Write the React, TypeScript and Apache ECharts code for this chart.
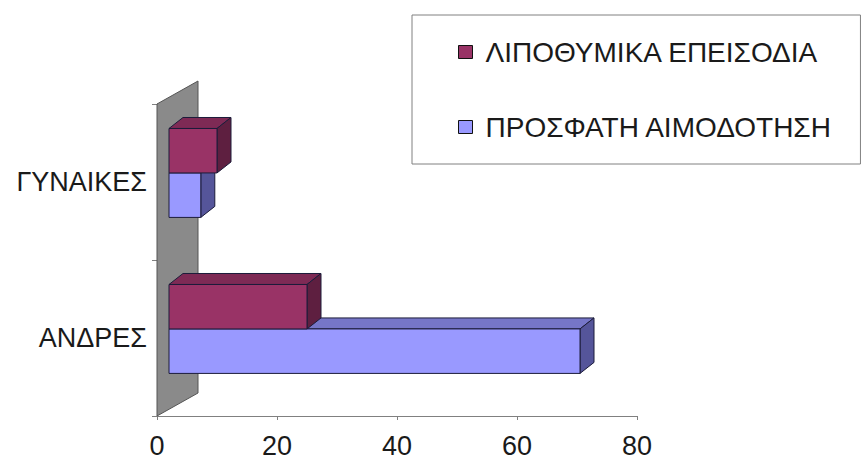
import React, { useEffect, useRef } from "react";
import * as echarts from "echarts";

const categories = ["ΑΝΔΡΕΣ", "ΓΥΝΑΙΚΕΣ"];
const seriesNames = ["ΛΙΠΟΘΥΜΙΚΑ ΕΠΕΙΣΟΔΙΑ", "ΠΡΟΣΦΑΤΗ ΑΙΜΟΔΟΤΗΣΗ"];
const faintingValues = [23, 8];
const donationValues = [68.5, 5.3];
const xMin = 0;
const xMax = 80;
const xInterval = 20;

const FONT = "'Liberation Sans', Arial, sans-serif";

const palette = [
  { front: "#993366", top: "#7e2a55", side: "#5e1f40" },
  { front: "#9999ff", top: "#7676c8", side: "#55559a" },
];
const EDGE = "#1c1c3a";

// 3D projection offsets (pixels)
const FX = 12;
const DX = 14;
const DY = -11;

function makeBarRenderer(slot: number) {
  return (params: any, api: any) => {
    const val = api.value(0);
    const cat = api.value(1);
    const p1 = api.coord([val, cat]);
    const p0 = api.coord([0, cat]);
    const band = api.size([0, 1])[1];
    const h = band * 0.285;
    const shift = band * 0.058;
    const cy = p1[1];
    const yTop = slot === 0 ? cy - shift - h : cy - shift;
    const xa = p0[0] + FX;
    const xb = p1[0] + FX;
    const c = palette[slot];
    return {
      type: "group",
      children: [
        {
          type: "polygon",
          shape: {
            points: [
              [xa, yTop],
              [xb, yTop],
              [xb + DX, yTop + DY],
              [xa + DX, yTop + DY],
            ],
          },
          style: { fill: c.top, stroke: EDGE, lineWidth: 1 },
        },
        {
          type: "polygon",
          shape: {
            points: [
              [xb, yTop],
              [xb + DX, yTop + DY],
              [xb + DX, yTop + h + DY],
              [xb, yTop + h],
            ],
          },
          style: { fill: c.side, stroke: EDGE, lineWidth: 1 },
        },
        {
          type: "rect",
          shape: { x: xa, y: yTop, width: xb - xa, height: h },
          style: { fill: c.front, stroke: EDGE, lineWidth: 1 },
        },
      ],
    };
  };
}

function renderWall(params: any) {
  const cs = params.coordSys;
  const x = cs.x;
  const y = cs.y;
  const h = cs.height;
  const wx = 41;
  const wy = -23;
  return {
    type: "polygon",
    shape: {
      points: [
        [x, y + h],
        [x, y],
        [x + wx, y + wy],
        [x + wx, y + h + wy],
      ],
    },
    style: { fill: "#8a8a8a", stroke: "#555555", lineWidth: 1 },
  };
}

export default function App() {
  const ref = useRef<HTMLDivElement>(null);
  useEffect(() => {
    if (!ref.current) return;
    const chart = echarts.init(ref.current, undefined, { renderer: "svg" });
    chart.setOption({
      animation: false,
      backgroundColor: "#ffffff",
      grid: { left: 157, right: 227, top: 104, bottom: 39, containLabel: false },
      legend: {
        data: seriesNames,
        orient: "vertical",
        left: 412,
        top: 15,
        padding: [22, 28, 22, 46],
        itemGap: 45,
        itemWidth: 14,
        itemHeight: 13,
        icon: "rect",
        borderColor: "#808080",
        borderWidth: 1,
        backgroundColor: "#ffffff",
        selectedMode: false,
        itemStyle: { borderColor: "#111111", borderWidth: 1 },
        textStyle: {
          fontSize: 28,
          fontFamily: FONT,
          color: "#1a1a1a",
          lineHeight: 30,
          padding: [0, 0, 0, 8],
        },
      },
      xAxis: {
        type: "value",
        min: xMin,
        max: xMax,
        interval: xInterval,
        axisLine: { show: true, lineStyle: { color: "#808080", width: 1 } },
        axisTick: { show: true, length: 4, lineStyle: { color: "#808080" } },
        splitLine: { show: false },
        axisLabel: { fontSize: 27, fontFamily: FONT, color: "#1a1a1a", margin: 16 },
      },
      yAxis: {
        type: "category",
        data: categories,
        axisLine: { show: true, lineStyle: { color: "#808080", width: 1 } },
        axisTick: { show: true, length: 5, lineStyle: { color: "#808080" } },
        splitLine: { show: false },
        axisLabel: {
          fontSize: 27,
          fontFamily: FONT,
          color: "#1a1a1a",
          margin: 10,
          padding: [0, 0, 6, 0],
        },
      },
      series: [
        {
          name: "wall",
          type: "custom",
          renderItem: renderWall,
          data: [[0, 0]],
          encode: { x: 0, y: 1 },
          z: 1,
          silent: true,
        },
        {
          name: seriesNames[0],
          type: "custom",
          renderItem: makeBarRenderer(0),
          data: faintingValues.map((v, i) => [v, i]),
          encode: { x: 0, y: 1 },
          itemStyle: { color: palette[0].front },
          z: 4,
        },
        {
          name: seriesNames[1],
          type: "custom",
          renderItem: makeBarRenderer(1),
          data: donationValues.map((v, i) => [v, i]),
          encode: { x: 0, y: 1 },
          itemStyle: { color: palette[1].front },
          z: 3,
        },
      ],
    });
    return () => chart.dispose();
  }, []);
  return (
    <div
      ref={ref}
      style={{ position: "fixed", left: 0, top: 0, width: 864, height: 459 }}
    />
  );
}
